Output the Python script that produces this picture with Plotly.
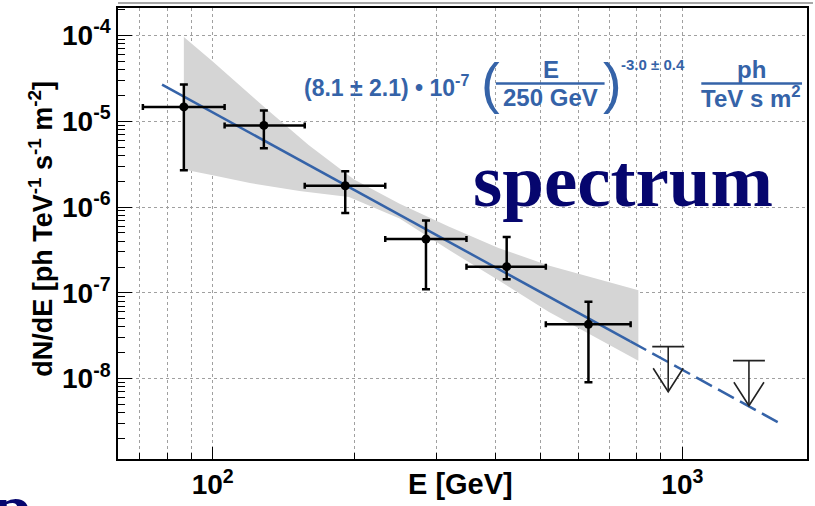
import plotly.graph_objects as go

# ---------------- data ----------------
energy = [86.8, 128.5, 191.5, 284.5, 422.6, 631.0]          # GeV
e_low = [71.0, 106.0, 157.0, 233.0, 347.0, 512.0]
e_high = [106.0, 157.0, 233.0, 347.0, 512.0, 776.0]
flux = [1.47e-5, 8.95e-6, 1.77e-6, 4.23e-7, 2.02e-7, 4.29e-8]  # ph TeV^-1 s^-1 m^-2
flux_low = [2.69e-6, 4.85e-6, 8.53e-7, 1.10e-7, 1.44e-7, 9.08e-9]
flux_high = [2.68e-5, 1.33e-5, 2.62e-6, 6.97e-7, 4.46e-7, 7.85e-8]

ul_energy = [933.0, 1386.0]
ul_flux = [2.36e-8, 1.62e-8]

fit_solid_E = [78.0, 775.0]
fit_solid_F = [2.67e-5, 2.72e-8]
fit_dash_E = [775.0, 1600.0]
fit_dash_F = [2.72e-8, 3.09e-9]

band_up_E = [86.8, 100, 130, 160, 200, 250, 318, 406, 519, 663, 806]
band_up_F = [9.57e-5, 4.96e-5, 1.40e-5, 5.28e-6, 2.10e-6, 1.09e-6, 5.95e-7, 3.34e-7, 2.08e-7, 1.44e-7, 1.07e-7]
band_lo_E = [86.8, 100, 120, 153, 195, 250, 318, 406, 519, 663, 806]
band_lo_F = [2.74e-6, 2.34e-6, 1.90e-6, 1.54e-6, 1.31e-6, 7.35e-7, 3.17e-7, 1.40e-7, 6.03e-8, 2.88e-8, 1.62e-8]

x_tickvals = [100, 1000]
x_ticktext = ["10<sup>2</sup>", "10<sup>3</sup>"]
y_tickvals = [1e-8, 1e-7, 1e-6, 1e-5, 1e-4]
y_ticktext = ["10<sup>-8</sup>", "10<sup>-7</sup>", "10<sup>-6</sup>", "10<sup>-5</sup>", "10<sup>-4</sup>"]

# ---------------- layout geometry ----------------
WIDTH, HEIGHT = 815, 506
L, R, T, B = 118, 6, 6, 40
PW, PH = WIDTH - L - R, HEIGHT - T - B
XR = [1.7983, 3.2654]
YR = [-8.937, -3.68]


def px(x):
    return (x - L) / PW


def py(y):
    return (T + PH - y) / PH


BLUE = "#3563a8"
NAVY = "#06066e"
GRID = "#a0a0a0"

fig = go.Figure()

# butterfly band
fig.add_trace(go.Scatter(
    x=band_up_E + band_lo_E[::-1], y=band_up_F + band_lo_F[::-1],
    mode="lines", fill="toself", fillcolor="#d5d5d5", line=dict(width=0),
    hoverinfo="skip", showlegend=False))

# fit line
fig.add_trace(go.Scatter(x=fit_solid_E, y=fit_solid_F, mode="lines",
                         line=dict(color=BLUE, width=2.5), showlegend=False))
fig.add_trace(go.Scatter(x=fit_dash_E, y=fit_dash_F, mode="lines",
                         line=dict(color=BLUE, width=2.5, dash="18px,7px"), showlegend=False))

# data points
fig.add_trace(go.Scatter(
    x=energy, y=flux, mode="markers",
    marker=dict(color="black", size=9),
    error_x=dict(type="data", symmetric=False,
                 array=[h - e for h, e in zip(e_high, energy)],
                 arrayminus=[e - l for e, l in zip(energy, e_low)],
                 color="black", thickness=2.5, width=3),
    error_y=dict(type="data", symmetric=False,
                 array=[h - f for h, f in zip(flux_high, flux)],
                 arrayminus=[f - l for f, l in zip(flux, flux_low)],
                 color="black", thickness=2.5, width=4),
    showlegend=False))

# upper limits glyphs (bar, stem, open arrow head) on the overlay axes (same ranges)
cap_dx, stem_dy, arm_dx, arm_dy = 0.034, 0.526, 0.032, 0.274
ux, uy = [], []
for e, f in zip(ul_energy, ul_flux):
    tip = f / 10 ** stem_dy
    ux += [e / 10 ** cap_dx, e * 10 ** cap_dx, None, e, e, None,
           e / 10 ** arm_dx, e, e * 10 ** arm_dx, None]
    uy += [f, f, None, f, tip, None,
           tip * 10 ** arm_dy, tip, tip * 10 ** arm_dy, None]
fig.add_trace(go.Scatter(x=ux, y=uy, mode="lines", line=dict(color="#222222", width=1.6),
                         xaxis="x2", yaxis="y2", showlegend=False, connectgaps=False))

ann = []
FS = "Liberation Sans, Arial, sans-serif"


def add_text(text, x, y, size, color=BLUE, xa="center", ya="middle", fam=FS, angle=0):
    ann.append(dict(text=text, x=px(x), y=py(y), xref="paper", yref="paper",
                    xanchor=xa, yanchor=ya, showarrow=False, textangle=angle,
                    font=dict(family=fam, size=size, color=color)))


# formula
add_text("<b>(8.1 ± 2.1) • 10<sup>-7</sup></b>", 303, 86, 23, xa="left")
add_text("(", 492, 82, 56)
add_text("<b>E</b>", 552, 69, 24)
add_text("<b>250 GeV</b>", 552, 97, 24)
add_text(")", 614, 82, 56)
add_text("<b>-3.0 ± 0.4</b>", 620, 64, 15, xa="left")
add_text("<b>ph</b>", 753, 69, 24)
add_text("<b>TeV s m<sup>2</sup></b>", 753, 97, 24)

# big label
add_text("<b>spectrum</b>", 472, 182, 75, color=NAVY, xa="left",
         fam="Liberation Serif, Times New Roman, serif")
add_text("<b>p</b>", -10, 474, 72, color=NAVY, xa="left", ya="top",
         fam="Liberation Serif, Times New Roman, serif")

# axis titles
add_text("<b>E [GeV]</b>", 461, 491, 29, color="black")
add_text("<b>dN/dE [ph TeV<sup>-1</sup> s<sup>-1</sup> m<sup>-2</sup>]</b>", 40, 231, 27,
         color="black", angle=-90)

shapes = [
    dict(type="line", xref="paper", yref="paper", x0=px(497), x1=px(606), y0=py(83), y1=py(83),
         line=dict(color=BLUE, width=2.5)),
    dict(type="line", xref="paper", yref="paper", x0=px(703), x1=px(804), y0=py(83), y1=py(83),
         line=dict(color=BLUE, width=2.5)),
    dict(type="line", xref="paper", yref="paper", x0=px(118), x1=px(815), y0=py(1), y1=py(1),
         line=dict(color="#8a8a8a", width=1.5)),
]

tickfont = dict(family=FS, size=28, color="black")

fig.update_layout(
    width=WIDTH, height=HEIGHT,
    margin=dict(l=L, r=R, t=T, b=B, pad=0),
    paper_bgcolor="white", plot_bgcolor="white",
    showlegend=False,
    annotations=ann, shapes=shapes,
    xaxis=dict(type="log", range=XR, tickmode="array", tickvals=x_tickvals,
               ticktext=["<b>" + t + "</b>" for t in x_ticktext], tickfont=tickfont,
               ticks="inside", ticklen=12, tickwidth=1.4, tickcolor="black",
               showline=True, linecolor="black", linewidth=1.5, mirror=True,
               showgrid=False, zeroline=False),
    yaxis=dict(type="log", range=YR, tickmode="array", tickvals=y_tickvals,
               ticktext=["<b>" + t + "</b>" for t in y_ticktext], tickfont=tickfont,
               ticks="inside", ticklen=14, tickwidth=1.4, tickcolor="black",
               showline=True, linecolor="black", linewidth=1.5, mirror=True,
               showgrid=True, gridcolor=GRID, griddash="dot", gridwidth=1, zeroline=False),
    xaxis2=dict(type="log", range=XR, overlaying="x", anchor="y2", side="bottom",
                tickmode="linear", tick0=0, dtick="D1", showticklabels=False,
                ticks="inside", ticklen=6, tickwidth=1.2, tickcolor="black",
                showgrid=True, gridcolor=GRID, griddash="dot", gridwidth=1,
                showline=False, zeroline=False),
    yaxis2=dict(type="log", range=YR, overlaying="y", anchor="x2", side="left",
                tickmode="linear", tick0=0, dtick="D1", showticklabels=False,
                ticks="inside", ticklen=7, tickwidth=1.2, tickcolor="black",
                showgrid=False, showline=False, zeroline=False),
)

fig.write_html("out.html")
